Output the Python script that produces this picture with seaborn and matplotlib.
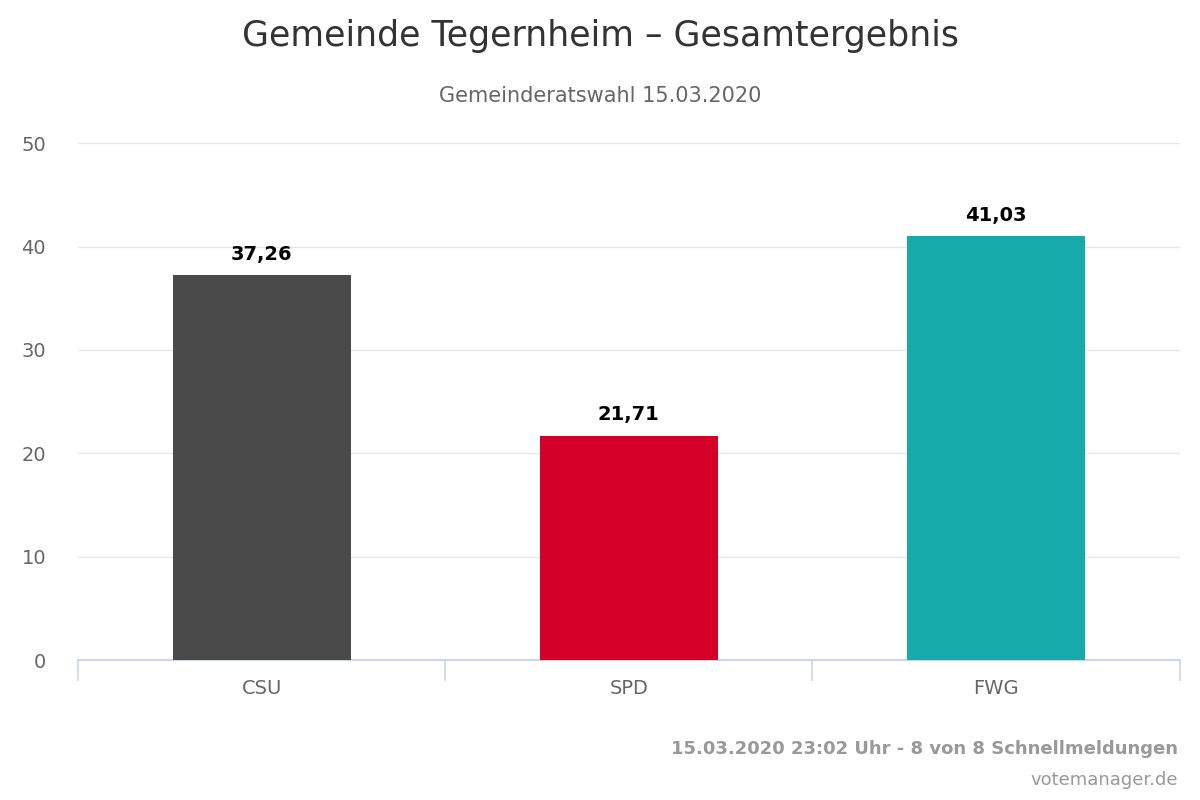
import matplotlib
matplotlib.use("Agg")
import matplotlib.pyplot as plt
import seaborn as sns
import pandas as pd

# Data
parties = ["CSU", "SPD", "FWG"]
shares = [37.26, 21.71, 41.03]
bar_colors = ["#4a4a4a", "#d50029", "#16aaaa"]
y_ticks = [0, 10, 20, 30, 40, 50]

title = "Gemeinde Tegernheim \u2013 Gesamtergebnis"
subtitle = "Gemeinderatswahl 15.03.2020"
credit_line1 = "15.03.2020 23:02 Uhr - 8 von 8 Schnellmeldungen"
credit_line2 = "votemanager.de"

df = pd.DataFrame({"partei": parties, "anteil": shares})

sns.set_theme(style="white")
plt.rcParams["font.family"] = ["DejaVu Sans"]

fig = plt.figure(figsize=(12, 8), dpi=100)
ax = fig.add_axes([0.065, 0.175, 0.918, 0.646])

sns.barplot(data=df, x="partei", y="anteil", hue="partei",
            palette=bar_colors, saturation=1, width=0.485, linewidth=0,
            legend=False, ax=ax, zorder=3)

ax.set_ylim(0, 50)
ax.set_xlim(-0.5, len(parties) - 0.5)
ax.set_yticks(y_ticks)
ax.set_yticklabels([str(t) for t in y_ticks])
ax.set_xlabel("")
ax.set_ylabel("")

# grid
ax.grid(axis="y", color="#e6e6e6", linewidth=1.0, zorder=0)
ax.grid(axis="x", visible=False)
for s in ["top", "right", "left"]:
    ax.spines[s].set_visible(False)
ax.spines["bottom"].set_color("#ccd6eb")
ax.spines["bottom"].set_linewidth(1.5)

# category boundary tick marks
ax.set_xticks([i - 0.5 for i in range(len(parties) + 1)], minor=True)
ax.tick_params(axis="x", which="minor", bottom=True, length=15, color="#ccd6eb", width=1.2)
ax.tick_params(axis="x", which="major", bottom=False, length=0, pad=14,
               labelsize=14, labelcolor="#666666")
ax.tick_params(axis="y", length=0, pad=23, labelsize=14, labelcolor="#666666")

# data labels
for i, v in enumerate(shares):
    ax.annotate(f"{v:.2f}".replace(".", ","), (i, v), xytext=(0, 8),
                textcoords="offset points", ha="center", va="bottom",
                fontsize=14, fontweight="bold", color="#000000")

fig.text(0.5, 0.955, title, ha="center", va="center", fontsize=25, color="#333333")
fig.text(0.5, 0.88, subtitle, ha="center", va="center", fontsize=15, color="#666666")
fig.text(0.982, 0.064, credit_line1, ha="right", va="center", fontsize=13,
         fontweight="bold", color="#999999")
fig.text(0.982, 0.025, credit_line2, ha="right", va="center", fontsize=13, color="#999999")

fig.savefig("out.png", dpi=100)
